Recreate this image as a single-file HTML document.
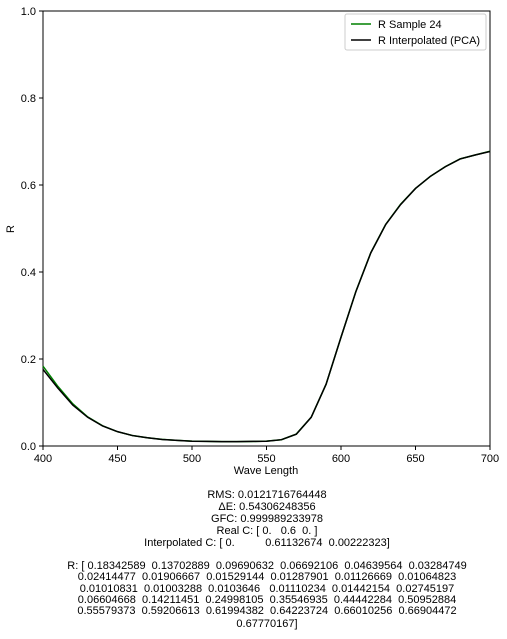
<!DOCTYPE html>
<html><head><meta charset="utf-8"><style>
body{margin:0;background:#fff;width:507px;height:635px;overflow:hidden;font-family:"DejaVu Sans","Liberation Sans",sans-serif}
svg text{font-family:"Liberation Sans","DejaVu Sans",sans-serif;font-size:11px;fill:#000;white-space:pre}
</style></head><body>
<svg id="chart" width="507" height="635">
<g id="axes"></g>
<g id="series"></g>
<g>
<rect x="345" y="14" width="141" height="36" fill="#fff" stroke="#ccc" rx="2"/>
<line x1="351" y1="24" x2="371" y2="24" stroke="#008000" stroke-width="1.5"/>
<text x="378" y="28">R Sample 24</text>
<line x1="351" y1="40" x2="371" y2="40" stroke="#000" stroke-width="1.5"/>
<text x="378" y="44">R Interpolated (PCA)</text>
</g>
<text x="266" y="474" text-anchor="middle">Wave Length</text>
<text x="14" y="229" text-anchor="middle" transform="rotate(-90 14 229)">R</text>
<g text-anchor="middle">
<text x="267" y="498">RMS: 0.0121716764448</text>
<text x="267" y="510">ΔE: 0.54306248356</text>
<text x="267" y="522">GFC: 0.999989233978</text>
<text x="267" y="534">Real C: [ 0.   0.6  0. ]</text>
<text x="267" y="546">Interpolated C: [ 0.          0.61132674  0.00222323]</text>
<text x="267" y="569">R: [ 0.18342589  0.13702889  0.09690632  0.06692106  0.04639564  0.03284749</text>
<text x="267" y="580">0.02414477  0.01906667  0.01529144  0.01287901  0.01126669  0.01064823</text>
<text x="267" y="592">0.01010831  0.01003288  0.0103646   0.01110234  0.01442154  0.02745197</text>
<text x="267" y="603">0.06604668  0.14211451  0.24998105  0.35546935  0.44442284  0.50952884</text>
<text x="267" y="614">0.55579373  0.59206613  0.61994382  0.64223724  0.66010256  0.66904472</text>
<text x="267" y="627">0.67770167]</text>
</g>
</svg>
<script>
const wavelengths=[400,410,420,430,440,450,460,470,480,490,500,510,520,530,540,550,560,570,580,590,600,610,620,630,640,650,660,670,680,690,700];
const sampleR=[0.18342589,0.13702889,0.09690632,0.06692106,0.04639564,0.03284749,0.02414477,0.01906667,0.01529144,0.01287901,0.01126669,0.01064823,0.01010831,0.01003288,0.0103646,0.01110234,0.01442154,0.02745197,0.06604668,0.14211451,0.24998105,0.35546935,0.44442284,0.50952884,0.55579373,0.59206613,0.61994382,0.64223724,0.66010256,0.66904472,0.67770167];
const interpR=[0.176,0.133,0.094,0.066,0.046,0.033,0.024,0.019,0.015,0.013,0.011,0.0105,0.010,0.010,0.0105,0.011,0.0145,0.027,0.066,0.142,0.250,0.355,0.444,0.509,0.555,0.592,0.620,0.642,0.660,0.669,0.677];
const xTicks=[400,450,500,550,600,650,700];
const yTicks=[0,0.2,0.4,0.6,0.8,1.0];
const yTickLabels=["0.0","0.2","0.4","0.6","0.8","1.0"];
const X0=43,X1=490,Y0=446,Y1=11;
const xs=v=>X0+(v-400)/300*(X1-X0);
const ys=v=>Y0-v*(Y0-Y1);
const NS="http://www.w3.org/2000/svg";
const axes=document.getElementById('axes'),series=document.getElementById('series');
function mk(t,a,p){const e=document.createElementNS(NS,t);for(const k in a)e.setAttribute(k,a[k]);p.appendChild(e);return e;}
const frame=mk('rect',{x:X0,y:Y1,width:X1-X0,height:Y0-Y1,fill:'none',stroke:'#000','stroke-width':1},axes);


xTicks.forEach(v=>{
 const l=mk('line',{x1:xs(v),x2:xs(v),y1:Y0,y2:Y0+4,stroke:'#000'},axes);
 
 
 const t=mk('text',{x:xs(v),y:Y0+16,'text-anchor':'middle'},axes);t.textContent=v;
 
 
});
yTicks.forEach((v,i)=>{
 const l=mk('line',{x1:X0-4,x2:X0,y1:ys(v),y2:ys(v),stroke:'#000'},axes);
 
 
 const t=mk('text',{x:X0-7,y:ys(v)+4,'text-anchor':'end'},axes);t.textContent=yTickLabels[i];
 
 
});
function line(vals,color,name){
 const p=mk('polyline',{points:vals.map((v,i)=>xs(wavelengths[i])+','+ys(v)).join(' '),fill:'none',stroke:color,'stroke-width':1.5},series);
 
 
}
line(sampleR,'#008000','line-sample-24');
line(interpR,'#000','line-interpolated-pca');
</script>
</body></html>
